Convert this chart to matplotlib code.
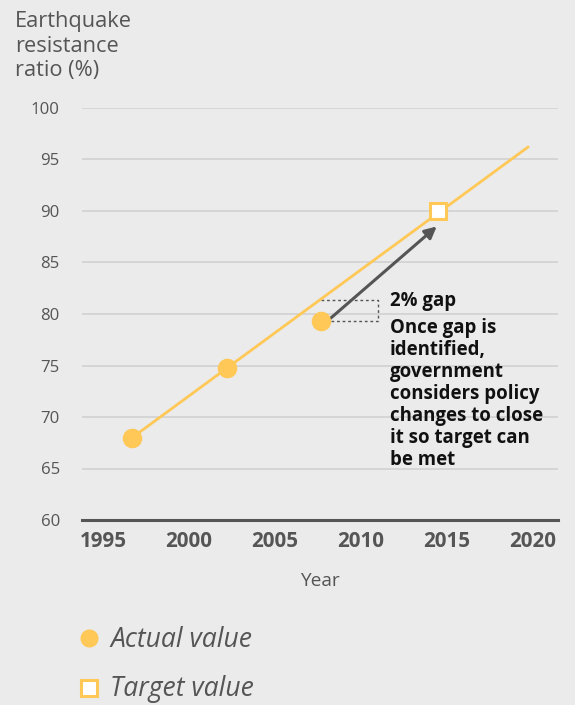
import matplotlib
matplotlib.use("Agg")
import matplotlib.pyplot as plt
from matplotlib.lines import Line2D

# ---- data ----
actual_years = [1996.7, 2002.2, 2007.7]
actual_values = [68.0, 74.8, 79.3]
target_years = [2014.5]
target_values = [90.0]
trend_years = [1996.7, 2019.7]
trend_values = [68.0, 96.2]
gap_top = 81.35
x_ticks = [1995, 2000, 2005, 2010, 2015, 2020]
y_ticks = [60, 65, 70, 75, 80, 85, 90, 95, 100]
annot_title = "2% gap"
annot_body = "Once gap is\nidentified,\ngovernment\nconsiders policy\nchanges to close\nit so target can\nbe met"
y_title = "Earthquake\nresistance\nratio (%)"

BG = "#ebebeb"
YEL = "#ffc857"
GRAY = "#555555"
GRID = "#d5d5d5"
FONT = "Open Sans"

W, H = 575, 705
fig = plt.figure(figsize=(W / 100, H / 100), dpi=100, facecolor=BG)
ax = fig.add_axes([82 / W, (H - 520) / H, (558 - 82) / W, (520 - 108) / H], facecolor=BG)
renderer = fig.canvas.get_renderer()


def fit(texts, target_px, ref=0):
    """Scale font size so texts[ref]'s width matches target_px."""
    t0 = texts[ref]
    for _ in range(3):
        w = t0.get_window_extent(renderer).width
        fs = t0.get_fontsize() * target_px / w
        for t in texts:
            t.set_fontsize(fs)
    return t0.get_fontsize()


def set_line_step(t, step_px):
    """Set linespacing so baseline-to-baseline distance equals step_px."""
    fp = t.get_fontproperties()
    _, h, d = renderer.get_text_width_height_descent("lp", fp, ismath=False)
    t.set_linespacing((step_px - d) / (h - d))


ax.set_xlim(1993.78, 2021.45)
ax.set_ylim(60, 100)

for v in y_ticks[1:]:
    ax.axhline(v, color=GRID, lw=1.4, zorder=1)

for s in ["top", "right", "left"]:
    ax.spines[s].set_visible(False)
ax.spines["bottom"].set_color(GRAY)
ax.spines["bottom"].set_linewidth(2.2)
ax.spines["bottom"].set_zorder(3)

ax.set_xticks(x_ticks)
xl = ax.set_xticklabels([str(t) for t in x_ticks], fontfamily=FONT, fontweight="bold",
                        fontsize=13, color=GRAY)
ax.set_yticks(y_ticks)
yl = ax.set_yticklabels([str(t) for t in y_ticks], fontfamily=FONT, fontsize=12, color=GRAY)
ax.tick_params(axis="both", length=0)
ax.tick_params(axis="y", pad=16)
ax.tick_params(axis="x", pad=8)
xlab = ax.set_xlabel("Year", fontfamily=FONT, fontsize=11, color=GRAY, labelpad=14)
fit(list(xl), 47)
fit(list(yl), 29, ref=-1)
fit([xlab], 40)

# trend line
ax.plot(trend_years, trend_values, color=YEL, lw=2.0, zorder=4, clip_on=False)

# gap box (dotted)
x0 = actual_years[2]
x1 = 2011.0
y_lo = actual_values[2]
ax.plot([x0, x1, x1, x0], [gap_top, gap_top, y_lo, y_lo], color=GRAY, lw=1.0,
        ls=(0, (2, 2)), zorder=3)

# arrow
ax.annotate("", xy=(target_years[0] - 0.1, target_values[0] - 1.5),
            xytext=(actual_years[2] + 0.4, actual_values[2] + 0.1),
            arrowprops=dict(arrowstyle="-|>,head_length=0.7,head_width=0.35",
                            color=GRAY, lw=2.2, shrinkA=0, shrinkB=0), zorder=5)

# markers
ax.plot(actual_years, actual_values, ls="none", marker="o", ms=13, mfc=YEL,
        mec=YEL, mew=1.0, zorder=6, clip_on=False)
ax.plot(actual_years, actual_values, ls="none", marker=(18, 1, 0), ms=14, mfc=YEL,
        mec=YEL, mew=0.5, zorder=6, clip_on=False)
ax.plot(target_years, target_values, ls="none", marker="s", ms=11, mfc="white",
        mec=YEL, mew=2.2, zorder=7, clip_on=False)

# annotation text (baseline positioned)
t_title = fig.text(390 / W, 1 - 306 / H, annot_title, fontfamily=FONT, fontweight="bold",
                   fontsize=12, color="#111111", va="baseline", ha="left")
t_body = fig.text(390 / W, 1 - 318 / H, annot_body, fontfamily=FONT, fontweight="bold",
                  fontsize=12, color="#111111", va="top", ha="left")
probe = fig.text(0, 0, "changes to close", fontfamily=FONT, fontweight="bold", fontsize=12)
fs_body = fit([probe], 153)
probe.remove()
t_body.set_fontsize(fs_body)
t_title.set_fontsize(fs_body)
set_line_step(t_body, 22)

# y axis title
t_y = fig.text(15 / W, 1 - 11 / H, y_title, fontfamily=FONT,
               fontsize=13, color=GRAY, va="top", ha="left")
probe = fig.text(0, 0, "Earthquake", fontfamily=FONT, fontsize=13)
fs_y = fit([probe], 117)
probe.remove()
t_y.set_fontsize(fs_y)
set_line_step(t_y, 24.5)

# legend
fig.add_artist(Line2D([89 / W], [1 - 638 / H], transform=fig.transFigure, marker="o",
                      ms=12, mfc=YEL, mec=YEL, ls="none"))
t_a = fig.text(110 / W, 1 - 647 / H, "Actual value", fontfamily=FONT, fontstyle="italic",
               fontsize=15, color=GRAY, va="baseline", ha="left")
fig.add_artist(Line2D([89 / W], [1 - 688 / H], transform=fig.transFigure, marker="s",
                      ms=11, mfc="white", mec=YEL, mew=2.2, ls="none"))
t_t = fig.text(110 / W, 1 - 696 / H, "Target value", fontfamily=FONT, fontstyle="italic",
               fontsize=15, color=GRAY, va="baseline", ha="left")
fit([t_a, t_t], 142)

fig.savefig("out.png", dpi=100, facecolor=BG)
